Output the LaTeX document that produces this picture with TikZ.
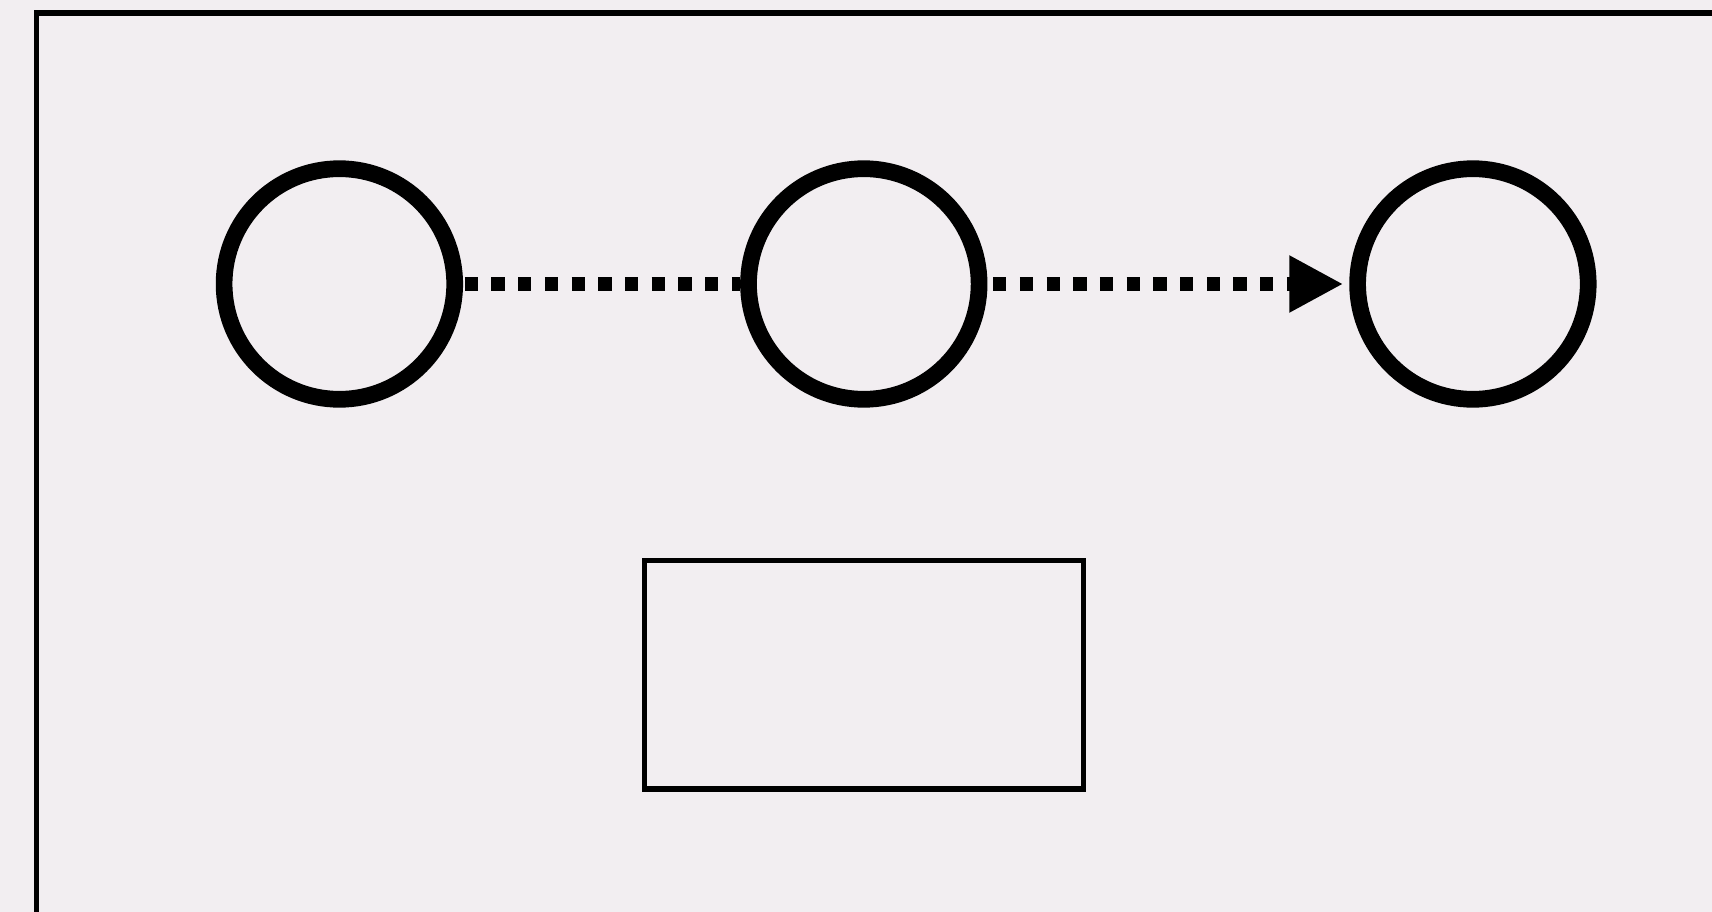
\documentclass[tikz,border=0pt]{standalone}
\usetikzlibrary{arrows.meta}
\definecolor{paper}{RGB}{242,238,241}
\begin{document}
\begin{tikzpicture}[x=1pt,y=-1pt,
  state/.style={circle,draw=black,line width=16.7pt,minimum size=230.6pt,inner sep=0pt},
  boxnode/.style={rectangle,draw=black,line width=5.3pt,minimum width=438.5pt,minimum height=228.5pt,inner sep=0pt},
  dotlink/.style={line width=13.3pt,line cap=butt,dash pattern=on 13.3pt off 13.4pt}]
  % canvas
  \fill[paper] (0,0) rectangle (1712,912);
  \useasboundingbox (0,0) rectangle (1712,912);
  % outer frame, running off the page to the right and bottom
  \coordinate (fbl) at (36.3,930);
  \coordinate (ftl) at (36.3,13);
  \coordinate (ftr) at (1730,13);
  \draw[line width=5.3pt,line join=miter] (fbl) -- (ftl) -- (ftr);
  % states
  \node[state] (s1) at (339.4,284) {};
  \node[state] (s2) at (863.8,284) {};
  \node[state] (s3) at (1472.9,284) {};
  % box
  \node[boxnode] (b) at (864,674.8) {};
  % connectors
  \draw[dotlink,shorten <=1.7pt] (s1) -- (s2);
  \draw[dotlink,-{Triangle[length=54pt,width=53.4pt]},shorten <=5.7pt,shorten >=6pt] (s2) -- (s3);
\end{tikzpicture}
\end{document}
